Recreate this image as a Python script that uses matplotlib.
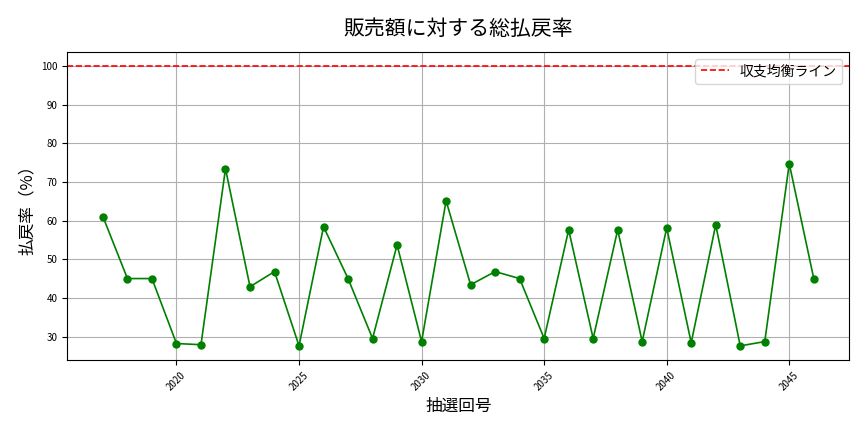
import matplotlib.pyplot as plt

plt.rcParams['font.family'] = ['Noto Sans CJK JP', 'DejaVu Sans']

draws = list(range(2017, 2047))
payout_rate = [61.0, 45.0, 45.0, 28.2, 27.9, 73.4, 42.9, 46.8, 27.6, 58.4,
               45.0, 29.5, 53.7, 28.7, 65.1, 43.4, 46.8, 45.0, 29.5, 57.6,
               29.5, 57.6, 28.7, 58.1, 28.4, 58.9, 27.6, 28.7, 74.7, 45.0]

fig, ax = plt.subplots(figsize=(8.64, 4.32), dpi=100)
ax.plot(draws, payout_rate, marker='o', color='green', markersize=5, linewidth=1.2)
ax.axhline(100, color='red', linestyle='--', linewidth=1.2, label='収支均衡ライン')

ax.set_title('販売額に対する総払戻率', fontsize=15, pad=12)
ax.set_xlabel('抽選回号', fontsize=12)
ax.set_ylabel('払戻率（%）', fontsize=12)
ax.grid(True, color='#b0b0b0', linewidth=0.8)
ax.tick_params(axis='x', labelrotation=45, labelsize=7)
ax.tick_params(axis='y', labelsize=7)
ax.legend(loc='upper right', fontsize=10)

fig.subplots_adjust(left=0.078, right=0.983, top=0.88, bottom=0.167)
fig.savefig('out.png', dpi=100)
